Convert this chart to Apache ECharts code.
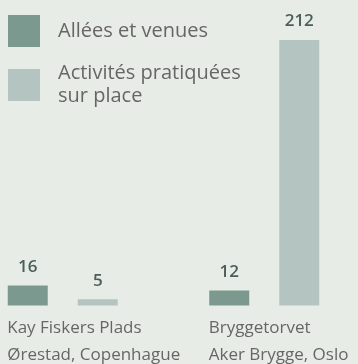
<!DOCTYPE html>
<html>
<head>
<meta charset="utf-8">
<script src="https://cdn.jsdelivr.net/npm/echarts@6/dist/echarts.min.js"></script>
<style>
  html, body { margin: 0; padding: 0; background: #e8ece7; }
  #chart { width: 358px; height: 364px; }
</style>
</head>
<body>
<div id="chart"></div>
<script>
// Places compared
const places = ['Kay Fiskers Plads\nØrestad, Copenhague', 'Bryggetorvet\nAker Brygge, Oslo'];
// Series names
const seriesNames = ['Allées et venues', 'Activités pratiquées\nsur place'];
// Counts per place
const passages = [16, 12];
const activites = [5, 212];

const FONT = '"Open Sans", sans-serif';
const colors = ['#7c998f', '#b4c5c1'];

const chart = echarts.init(document.getElementById('chart'));

const valueLabel = {
  show: true,
  position: 'top',
  distance: 10,
  color: '#4b5f59',
  fontFamily: FONT,
  fontSize: 17,
  fontWeight: 600
};

chart.setOption({
  backgroundColor: '#e8ece7',
  animation: false,
  legend: {
    orient: 'vertical',
    left: 8,
    top: 15,
    padding: 0,
    itemWidth: 32,
    itemHeight: 32,
    itemGap: 15,
    icon: 'rect',
    selectedMode: false,
    textStyle: {
      color: '#666666',
      fontFamily: FONT,
      fontSize: 20,
      lineHeight: 23,
      padding: [0, 0, 0, 13]
    },
    data: seriesNames
  },
  grid: {
    left: -38,
    right: -7,
    top: 40,
    bottom: 58.5,
    outerBoundsMode: 'none'
  },
  xAxis: {
    type: 'category',
    data: places,
    axisLine: { show: false },
    axisTick: { show: false },
    axisLabel: {
      interval: 0,
      hideOverlap: false,
      align: 'left',
      margin: 9,
      padding: [0, 0, 0, -55.5],
      color: '#666666',
      fontFamily: FONT,
      fontSize: 17,
      lineHeight: 27
    }
  },
  yAxis: {
    type: 'value',
    min: 0,
    max: 212,
    show: false,
    splitLine: { show: false }
  },
  series: [
    {
      name: seriesNames[0],
      type: 'bar',
      data: passages,
      barWidth: 40,
      barGap: '75%',
      itemStyle: { color: colors[0] },
      label: valueLabel
    },
    {
      name: seriesNames[1],
      type: 'bar',
      data: activites,
      barWidth: 40,
      itemStyle: { color: colors[1] },
      label: valueLabel
    }
  ]
});
</script>
</body>
</html>
